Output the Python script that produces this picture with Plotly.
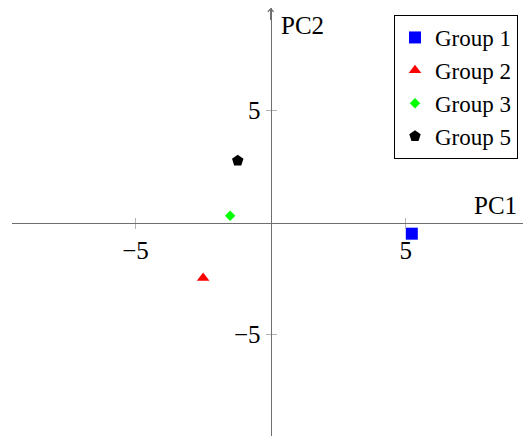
import plotly.graph_objects as go

# PCA scores for each group (PC1, PC2)
groups = ["Group 1", "Group 2", "Group 3", "Group 5"]
pc1 = [5.22, -2.50, -1.50, -1.22]
pc2 = [-0.49, -2.47, 0.31, 2.77]
colors = ["#0000ff", "#ff0000", "#00ff00", "#000000"]
symbols = ["square", "triangle-up", "diamond", "pentagon"]
sizes = [12, 11, 8, 12]
tick_vals = [-5, 5]
tick_text = ["\u22125", "5"]

W, H = 523, 436
ML, MR, MT, MB = 12, 0, 8, 0
x_range = [-9.571, 9.334]
y_range = [-9.522, 9.585]

FONT = "Liberation Serif"
AXIS_COLOR = "#6e6e6e"
TICK_COLOR = "#b4b4b4"

fig = go.Figure()
for g, x, y, c, s, sz in zip(groups, pc1, pc2, colors, symbols, sizes):
    fig.add_trace(go.Scatter(
        x=[x], y=[y], mode="markers", name=g,
        marker=dict(color=c, symbol=s, size=sz, line=dict(width=0)),
    ))

# empty trace on overlaid axes so tick marks also extend inward
fig.add_trace(go.Scatter(x=[], y=[], xaxis="x2", yaxis="y2",
                         showlegend=False, hoverinfo="skip"))

# axes cross at the origin
x_zero_pos = (0 - y_range[0]) / (y_range[1] - y_range[0])
y_zero_pos = (0 - x_range[0]) / (x_range[1] - x_range[0])

axis_common = dict(showgrid=False, zeroline=False, tickvals=tick_vals,
                   ticklen=5, tickcolor=TICK_COLOR, tickwidth=1)

fig.update_layout(
    width=W, height=H,
    margin=dict(l=ML, r=MR, t=MT, b=MB, pad=0),
    paper_bgcolor="white", plot_bgcolor="white",
    font=dict(family=FONT, size=25, color="black"),
    showlegend=True,
    legend=dict(
        x=(518 - ML) / (W - ML - MR), y=(H - MB - 15) / (H - MT - MB),
        xanchor="right", yanchor="top",
        bordercolor="black", borderwidth=1, bgcolor="white",
        font=dict(family=FONT, size=23),
        itemwidth=30, tracegroupgap=0,
    ),
    xaxis=dict(
        range=x_range, **axis_common,
        showline=True, linecolor=AXIS_COLOR, linewidth=1.4,
        anchor="free", position=x_zero_pos,
        ticktext=tick_text, ticks="outside",
        tickfont=dict(family=FONT, size=25),
    ),
    yaxis=dict(
        range=y_range, **axis_common,
        showline=True, linecolor=AXIS_COLOR, linewidth=1.4,
        anchor="free", position=y_zero_pos,
        ticktext=tick_text, ticks="outside",
        tickfont=dict(family=FONT, size=25),
    ),
    xaxis2=dict(
        range=x_range, **axis_common, overlaying="x",
        showline=False, anchor="free", position=x_zero_pos,
        ticks="inside", showticklabels=False,
    ),
    yaxis2=dict(
        range=y_range, **axis_common, overlaying="y",
        showline=False, anchor="free", position=y_zero_pos,
        ticks="inside", showticklabels=False,
    ),
)

# arrow head at the top of the PC2 axis
fig.add_annotation(
    x=0, y=y_range[1], ax=0, ay=y_range[1] - 0.6,
    xref="x", yref="y", axref="x", ayref="y",
    showarrow=True, arrowhead=4, arrowsize=0.8, arrowwidth=1.4,
    arrowcolor=AXIS_COLOR, text="",
)

# axis titles
fig.add_annotation(
    x=x_range[1], y=0, xref="x", yref="y", text="PC1",
    showarrow=False, xanchor="right", yanchor="bottom", yshift=2, xshift=-4,
    font=dict(family=FONT, size=25),
)
fig.add_annotation(
    x=0, y=y_range[1], xref="x", yref="y", text="PC2",
    showarrow=False, xanchor="left", yanchor="top", xshift=8, yshift=-2,
    font=dict(family=FONT, size=25),
)

fig.write_html("out.html")
